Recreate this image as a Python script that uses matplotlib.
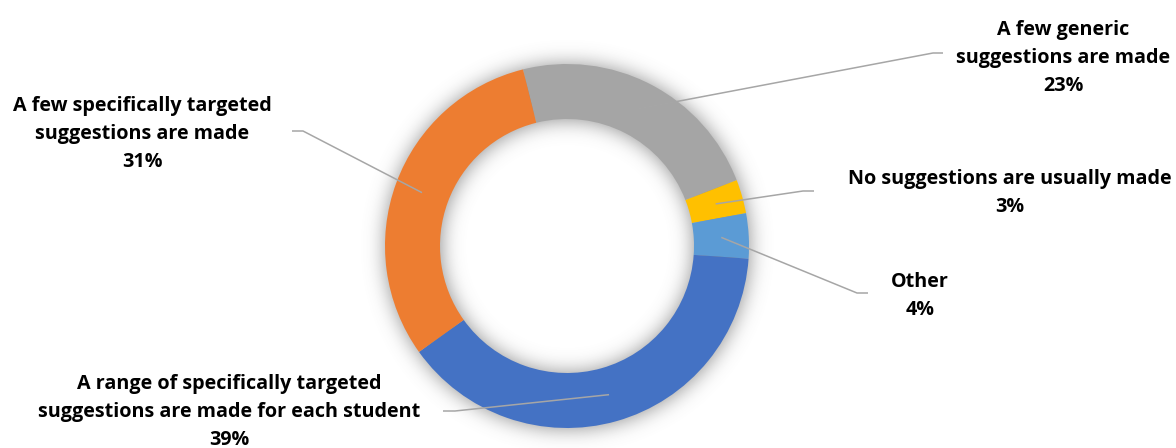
import numpy as np
import matplotlib
matplotlib.use("Agg")
import matplotlib.pyplot as plt

# survey answers and their shares (%)
labels = ["A few generic\nsuggestions are made",
          "No suggestions are usually made",
          "Other",
          "A range of specifically targeted\nsuggestions are made for each student",
          "A few specifically targeted\nsuggestions are made"]
values = [23, 3, 4, 39, 31]
colors = ["#A5A5A5", "#FFC000", "#5B9BD5", "#4472C4", "#ED7D31"]

W, H = 1176, 448
CX, CY = 567, 246          # donut centre (pixels from top-left)
R_OUT, R_IN = 182, 127
START = 104                # first slice begins a little left of 12 o'clock

# where each label sits, and the elbow / end of its leader line (pixels)
label_xy = [(1063, 58), (1010, 193), (920, 296), (229, 412), (142, 134)]
leader_end = [((933, 53), (943, 53)), ((803, 191), (814, 191)),
              ((857, 293), (868, 293)), ((455, 411), (443, 411)),
              ((303, 131), (292, 131))]


def fy(y):
    return H - y


fig = plt.figure(figsize=(W / 100, H / 100), dpi=100)
ax = fig.add_axes([0, 0, 1, 1])
ax.set_xlim(0, W)
ax.set_ylim(0, H)
ax.set_aspect("equal")
ax.axis("off")

# soft glow behind the ring
yy, xx = np.mgrid[0:H, 0:W]
rr = np.hypot(xx - CX, yy - CY)
mask = ((rr <= R_OUT) & (rr >= R_IN)).astype(float)
sig = 10
k = np.exp(-0.5 * (np.arange(-3 * sig, 3 * sig + 1) / sig) ** 2)
k /= k.sum()
blur = np.apply_along_axis(lambda m: np.convolve(m, k, mode="same"), 0, mask)
blur = np.apply_along_axis(lambda m: np.convolve(m, k, mode="same"), 1, blur)
shadow = np.zeros((H, W, 4))
shadow[..., :3] = 0.45
shadow[..., 3] = blur * 0.8
ax.imshow(shadow, extent=(0, W, 0, H), origin="upper", zorder=0)

wedges, _ = ax.pie(values, colors=colors, startangle=START, counterclock=False,
                   center=(CX, fy(CY)), radius=R_OUT,
                   wedgeprops=dict(width=R_OUT - R_IN, linewidth=0))
for w in wedges:
    w.set_zorder(2)
ax.set_xlim(0, W)
ax.set_ylim(0, H)

r_mid = (R_OUT + R_IN) / 2
for w, lab, (lx, ly), (elbow, end), v in zip(wedges, labels, label_xy, leader_end, values):
    ang = np.deg2rad((w.theta1 + w.theta2) / 2)
    sx = CX + r_mid * np.cos(ang)
    sy = fy(CY) + r_mid * np.sin(ang)
    ax.plot([sx, elbow[0], end[0]], [sy, fy(elbow[1]), fy(end[1])],
            color="#A6A6A6", lw=1.1, zorder=3, solid_capstyle="butt")
    ax.text(lx, fy(ly), f"{lab}\n{v}%", ha="center", va="center",
            fontsize=14.2, fontweight="bold", family="Open Sans",
            color="#000000", linespacing=1.52, zorder=4)

fig.savefig("out.png", dpi=100)
